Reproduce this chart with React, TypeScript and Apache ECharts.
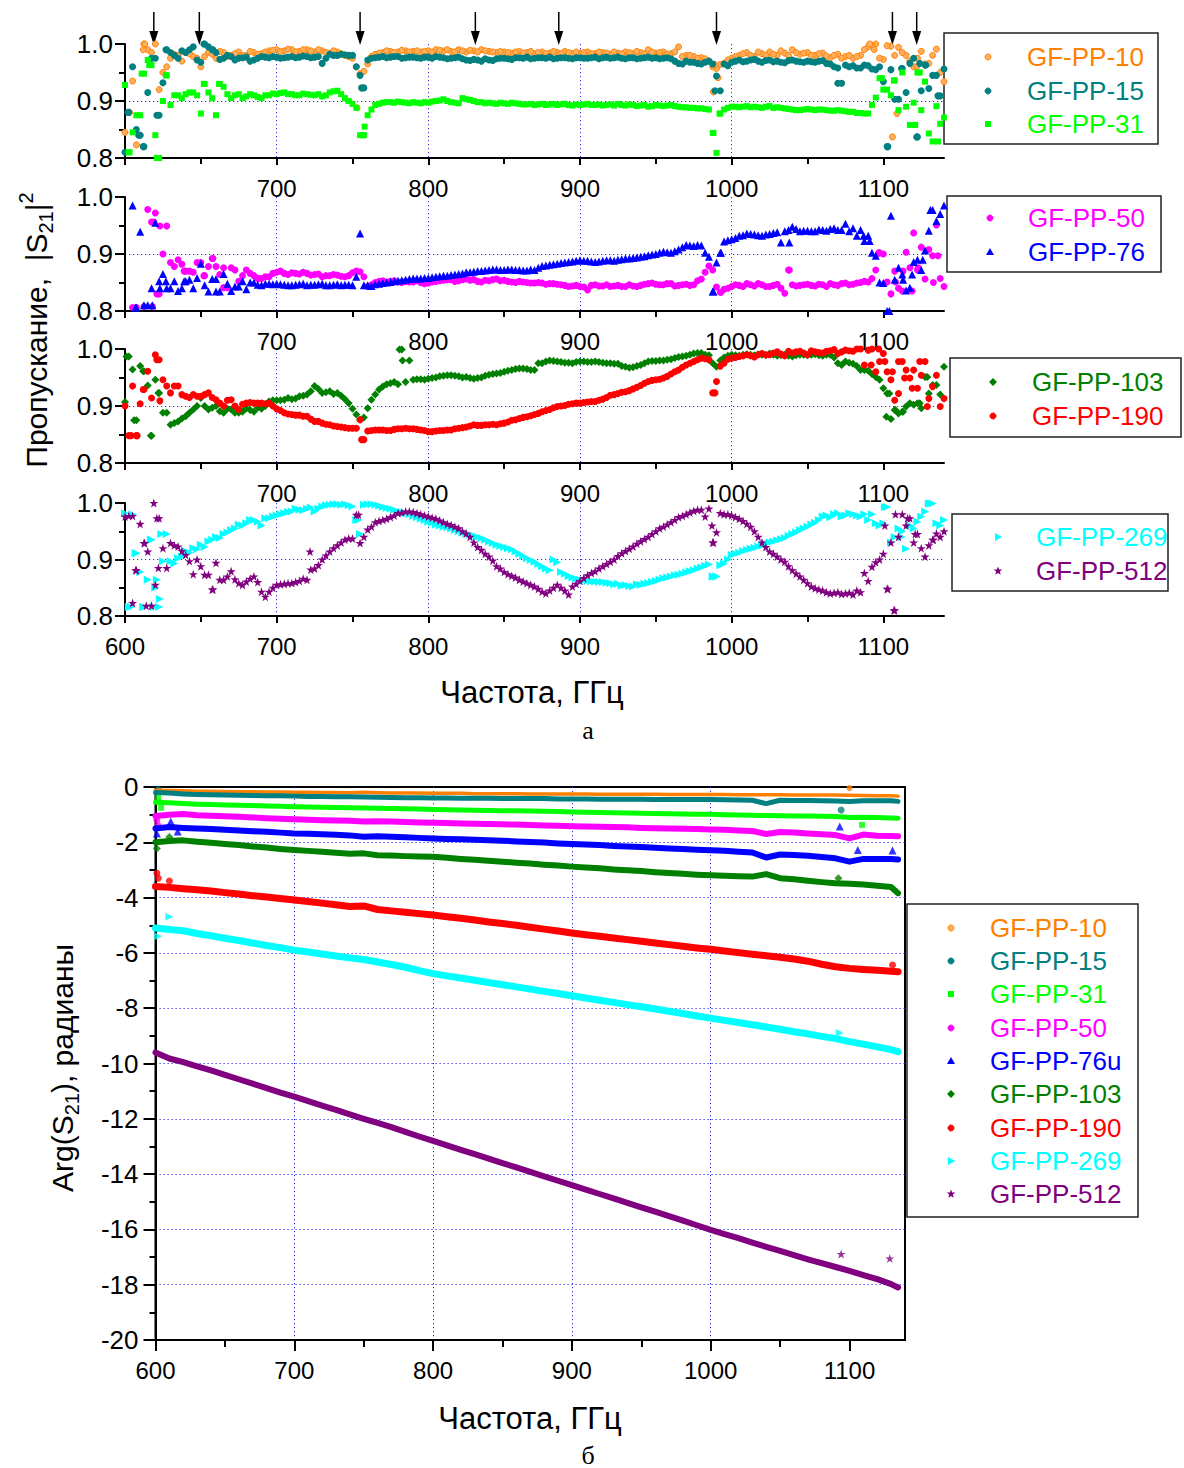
import React, { useEffect, useRef } from 'react';
import * as echarts from 'echarts';

const FONT = '"Liberation Sans", Arial, Helvetica, sans-serif';
const SERIF = '"Liberation Serif", "Times New Roman", serif';

// ---------- panel (a): transmission |S21|^2 ----------
const freqA = [
  600, 605, 610, 615, 620, 625, 630, 635, 640, 645,
  650, 655, 660, 665, 670, 675, 680, 685, 690, 695,
  700, 705, 710, 715, 720, 725, 730, 735, 740, 745,
  750, 755, 760, 765, 770, 775, 780, 785, 790, 795,
  800, 805, 810, 815, 820, 825, 830, 835, 840, 845,
  850, 855, 860, 865, 870, 875, 880, 885, 890, 895,
  900, 905, 910, 915, 920, 925, 930, 935, 940, 945,
  950, 955, 960, 965, 970, 975, 980, 985, 990, 995,
  1000, 1005, 1010, 1015, 1020, 1025, 1030, 1035, 1040, 1045,
  1050, 1055, 1060, 1065, 1070, 1075, 1080, 1085, 1090, 1095,
  1100, 1105, 1110, 1115, 1120, 1125, 1130, 1135, 1140,
];
const freqA2 = [
  602.5, 607.5, 612.5, 617.5, 622.5, 627.5, 632.5, 637.5, 642.5, 647.5,
  652.5, 657.5, 662.5, 667.5, 672.5, 677.5, 682.5, 687.5, 692.5, 697.5,
  702.5, 707.5, 712.5, 717.5, 722.5, 727.5, 732.5, 737.5, 742.5, 747.5,
  752.5, 757.5, 762.5, 767.5, 772.5, 777.5, 782.5, 787.5, 792.5, 797.5,
  802.5, 807.5, 812.5, 817.5, 822.5, 827.5, 832.5, 837.5, 842.5, 847.5,
  852.5, 857.5, 862.5, 867.5, 872.5, 877.5, 882.5, 887.5, 892.5, 897.5,
  902.5, 907.5, 912.5, 917.5, 922.5, 927.5, 932.5, 937.5, 942.5, 947.5,
  952.5, 957.5, 962.5, 967.5, 972.5, 977.5, 982.5, 987.5, 992.5, 997.5,
  1002.5, 1007.5, 1012.5, 1017.5, 1022.5, 1027.5, 1032.5, 1037.5, 1042.5, 1047.5,
  1052.5, 1057.5, 1062.5, 1067.5, 1072.5, 1077.5, 1082.5, 1087.5, 1092.5, 1097.5,
  1102.5, 1107.5, 1112.5, 1117.5, 1122.5, 1127.5, 1132.5, 1137.5,
];

const pp10A = [
  0.845, 0.935, 0.84, 0.99, 1.0, 0.95, 0.975, 0.98, 0.985, 0.978,
  0.96, 0.985, 0.975, 0.985, 0.98, 0.986, 0.98, 0.985, 0.983, 0.988,
  0.99, 0.988, 0.99, 0.987, 0.99, 0.986, 0.988, 0.984, 0.986, 0.98,
  0.975, 0.948, 0.965, 0.982, 0.985, 0.987, 0.986, 0.988, 0.987, 0.986,
  0.988, 0.99, 0.988, 0.987, 0.99, 0.986, 0.988, 0.99, 0.987, 0.985,
  0.986, 0.984, 0.987, 0.985, 0.983, 0.986, 0.984, 0.985, 0.987, 0.983,
  0.984, 0.986, 0.983, 0.985, 0.982, 0.984, 0.986, 0.983, 0.985, 0.99,
  0.984, 0.986, 0.983, 0.995, 0.98, 0.978, 0.976, 0.97, 0.957, 0.966,
  0.975, 0.98, 0.985, 0.978, 0.983, 0.986, 0.98, 0.984, 0.99, 0.982,
  0.985, 0.98, 0.984, 0.976, 0.982, 0.978, 0.975, 0.98, 0.995, 1.0,
  0.973, 0.996, 0.994, 0.98, 0.96, 0.987, 0.966, 0.991, 0.934,
];
const pp10A2 = [
  0.88, 0.823, 1.0, 0.985, 0.92, 0.96, 0.982, 0.97, 0.983, 0.975,
  0.978, 0.982, 0.987, 0.978, 0.983, 0.98, 0.987, 0.982, 0.986, 0.989,
  0.987, 0.991, 0.986, 0.99, 0.988, 0.99, 0.985, 0.988, 0.983, 0.978,
  0.96, 0.952, 0.978, 0.984, 0.988, 0.985, 0.989, 0.986, 0.988, 0.987,
  0.986, 0.989, 0.99, 0.986, 0.988, 0.989, 0.986, 0.988, 0.986, 0.987,
  0.985, 0.986, 0.984, 0.987, 0.985, 0.983, 0.987, 0.983, 0.985, 0.986,
  0.985, 0.983, 0.986, 0.984, 0.986, 0.983, 0.985, 0.987, 0.983, 0.986,
  0.985, 0.982, 0.986, 0.978, 0.98, 0.975, 0.974, 0.96, 0.964, 0.972,
  0.978, 0.983, 0.98, 0.986, 0.98, 0.982, 0.988, 0.98, 0.985, 0.984,
  0.98, 0.983, 0.979, 0.98, 0.975, 0.98, 0.978, 0.99, 0.998, 0.975,
  0.997, 0.98, 0.985, 0.97, 0.975, 0.965, 0.98, 0.95,
];
const pp15A = [
  0.81, 0.96, 0.84, 0.915, 0.975, 0.932, 0.985, 0.975, 0.985, 0.995,
  0.968, 0.995, 0.985, 0.975, 0.978, 0.975, 0.977, 0.972, 0.978, 0.976,
  0.977, 0.976, 0.978, 0.977, 0.978, 0.977, 0.966, 0.982, 0.98, 0.981,
  0.98, 0.945, 0.972, 0.976, 0.978, 0.977, 0.978, 0.976, 0.977, 0.975,
  0.977, 0.978, 0.976, 0.975, 0.977, 0.972, 0.973, 0.97, 0.972, 0.974,
  0.975, 0.973, 0.976, 0.977, 0.975, 0.976, 0.977, 0.975, 0.976, 0.974,
  0.976, 0.975, 0.977, 0.976, 0.975, 0.977, 0.974, 0.976, 0.975, 0.977,
  0.976, 0.975, 0.974, 0.966, 0.97, 0.968, 0.965, 0.97, 0.944, 0.965,
  0.968, 0.972, 0.97, 0.973, 0.968, 0.972, 0.97, 0.967, 0.972, 0.969,
  0.97, 0.968, 0.971, 0.965, 0.958, 0.963, 0.962, 0.958, 0.962, 0.955,
  0.934, 0.955, 0.903, 0.915, 0.975, 0.918, 0.922, 0.945, 0.956,
];
const pp15A2 = [
  0.88, 0.85, 0.82, 0.975, 0.875, 0.99, 0.98, 0.988, 0.99, 0.972,
  1.0, 0.99, 0.973, 0.98, 0.972, 0.976, 0.97, 0.975, 0.977, 0.978,
  0.975, 0.977, 0.976, 0.979, 0.976, 0.978, 0.975, 0.98, 0.982, 0.98,
  0.96, 0.923, 0.975, 0.977, 0.976, 0.978, 0.975, 0.977, 0.976, 0.977,
  0.975, 0.977, 0.974, 0.976, 0.974, 0.971, 0.972, 0.974, 0.971, 0.975,
  0.974, 0.976, 0.975, 0.974, 0.976, 0.975, 0.974, 0.976, 0.975, 0.976,
  0.975, 0.976, 0.974, 0.977, 0.976, 0.975, 0.976, 0.974, 0.976, 0.975,
  0.974, 0.976, 0.97, 0.965, 0.968, 0.966, 0.968, 0.965, 0.918, 0.962,
  0.97, 0.969, 0.972, 0.97, 0.971, 0.969, 0.968, 0.971, 0.97, 0.968,
  0.969, 0.97, 0.966, 0.96, 0.931, 0.96, 0.958, 0.963, 0.956, 0.96,
  0.82, 0.903, 0.957, 0.966, 0.837, 0.963, 0.945, 0.909,
];
const pp31A = [
  0.928, 0.845, 0.875, 0.972, 0.84, 0.9, 0.893, 0.91, 0.912, 0.915,
  0.878, 0.915, 0.875, 0.925, 0.905, 0.912, 0.908, 0.91, 0.905, 0.91,
  0.912, 0.915, 0.912, 0.91, 0.912, 0.91, 0.908, 0.915, 0.918, 0.905,
  0.895, 0.84, 0.875, 0.893, 0.897, 0.898, 0.899, 0.897, 0.898, 0.896,
  0.897, 0.9, 0.903, 0.898, 0.896, 0.903, 0.9, 0.898, 0.897, 0.895,
  0.896, 0.897, 0.895, 0.894, 0.893, 0.895, 0.894, 0.893, 0.895, 0.892,
  0.893, 0.895, 0.893, 0.892, 0.894, 0.895, 0.892, 0.893, 0.892, 0.89,
  0.893, 0.891, 0.893, 0.89, 0.889, 0.888, 0.887, 0.885, 0.809, 0.885,
  0.89, 0.889, 0.891, 0.89, 0.888, 0.891, 0.889, 0.887, 0.885, 0.884,
  0.886, 0.884, 0.885, 0.883, 0.884, 0.882, 0.881, 0.879, 0.878, 0.906,
  0.92, 0.91, 0.884, 0.89, 0.897, 0.884, 0.843, 0.891, 0.871,
];
const pp31A2 = [
  0.81, 0.875, 0.948, 0.963, 0.8, 0.945, 0.91, 0.905, 0.915, 0.91,
  0.93, 0.905, 0.93, 0.912, 0.91, 0.905, 0.912, 0.907, 0.91, 0.913,
  0.914, 0.912, 0.91, 0.913, 0.911, 0.912, 0.91, 0.917, 0.912, 0.9,
  0.888, 0.84, 0.885, 0.895, 0.898, 0.897, 0.898, 0.896, 0.897, 0.898,
  0.899, 0.901, 0.9, 0.897, 0.905, 0.902, 0.898, 0.896, 0.896, 0.897,
  0.895, 0.896, 0.894, 0.895, 0.894, 0.893, 0.895, 0.894, 0.893, 0.894,
  0.894, 0.893, 0.894, 0.893, 0.892, 0.893, 0.894, 0.891, 0.893, 0.891,
  0.892, 0.892, 0.891, 0.889, 0.888, 0.887, 0.886, 0.844, 0.878, 0.888,
  0.89, 0.89, 0.889, 0.889, 0.89, 0.888, 0.888, 0.886, 0.884, 0.885,
  0.885, 0.885, 0.884, 0.883, 0.883, 0.881, 0.879, 0.878, 0.893, 0.94,
  0.92, 0.936, 0.95, 0.858, 0.95, 0.934, 0.829, 0.86,
];
const pp50A = [
  null, 0.806, null, 0.978, 0.972, 0.9, 0.885, 0.89, 0.87, 0.868,
  0.885, 0.878, 0.878, 0.876, 0.876, 0.852, 0.872, 0.862, 0.857, 0.86,
  0.868, 0.866, 0.867, 0.865, 0.866, 0.864, 0.86, 0.862, 0.863, 0.86,
  0.867, 0.869, 0.843, 0.85, 0.853, 0.852, 0.851, 0.852, 0.851, 0.85,
  0.849, 0.852, 0.854, 0.855, 0.853, 0.856, 0.855, 0.851, 0.853, 0.856,
  0.854, 0.851, 0.852, 0.85, 0.849, 0.849, 0.848, 0.847, 0.845, 0.844,
  0.843, 0.837, 0.846, 0.844, 0.843, 0.845, 0.843, 0.844, 0.845, 0.848,
  0.847, 0.846, 0.848, 0.845, 0.847, 0.846, 0.856, 0.879, 0.842, 0.838,
  0.843, 0.845, 0.848, 0.844, 0.846, 0.843, 0.847, 0.831, 0.846, 0.845,
  0.847, 0.844, 0.846, 0.848, 0.845, 0.849, 0.847, 0.85, 0.851, 0.872,
  0.9, 0.83, 0.84, 0.903, 0.937, 0.912, 0.908, 0.951, 0.843,
];
const pp50A2 = [
  null, 0.806, 0.808, 0.956, 0.83, 0.949, 0.878, 0.882, 0.87, 0.885,
  0.862, 0.892, 0.864, 0.841, 0.872, 0.862, 0.866, 0.857, 0.86, 0.866,
  0.87, 0.864, 0.866, 0.868, 0.863, 0.865, 0.862, 0.864, 0.861, 0.862,
  0.87, 0.86, 0.846, 0.852, 0.851, 0.853, 0.85, 0.851, 0.853, 0.848,
  0.851, 0.853, 0.855, 0.852, 0.855, 0.854, 0.852, 0.854, 0.855, 0.853,
  0.852, 0.85, 0.851, 0.849, 0.85, 0.847, 0.848, 0.846, 0.843, 0.845,
  0.842, 0.845, 0.844, 0.846, 0.844, 0.843, 0.846, 0.843, 0.847, 0.849,
  0.846, 0.848, 0.844, 0.846, 0.845, 0.853, 0.868, 0.872, 0.833, 0.84,
  0.846, 0.843, 0.846, 0.848, 0.843, 0.845, 0.84, 0.872, 0.844, 0.846,
  0.845, 0.847, 0.843, 0.846, 0.848, 0.846, 0.849, 0.852, 0.857, 0.902,
  0.851, 0.87, 0.835, 0.876, 0.872, 0.856, 0.897, 0.857,
];
const pp76A = [
  null, 0.985, 0.939, 0.81, 0.955, 0.865, 0.84, 0.835, 0.852, 0.84,
  0.883, 0.834, 0.856, 0.865, 0.835, 0.843, 0.838, 0.85, 0.845, 0.848,
  0.848, 0.846, 0.845, 0.847, 0.845, 0.846, 0.848, 0.845, 0.847, 0.846,
  0.845, 0.936, 0.845, 0.847, 0.849, 0.851, 0.853, 0.855, 0.857, 0.857,
  0.858, 0.86, 0.862, 0.863, 0.865, 0.868, 0.869, 0.87, 0.872, 0.873,
  0.872, 0.873, 0.872, 0.871, 0.872, 0.879, 0.881, 0.883, 0.885, 0.887,
  0.889, 0.888, 0.886, 0.888, 0.889, 0.89, 0.892, 0.893, 0.895, 0.898,
  0.9, 0.904, 0.902, 0.908, 0.916, 0.914, 0.915, 0.895, 0.885, 0.922,
  0.926, 0.932, 0.936, 0.934, 0.932, 0.935, 0.938, 0.94, 0.948, 0.94,
  0.941, 0.94, 0.942, 0.944, 0.942, 0.953, 0.945, 0.942, 0.932, 0.897,
  0.849, 0.967, 0.876, 0.836, 0.886, 0.872, 0.941, 0.958, 0.985,
];
const pp76A2 = [
  null, 0.806, 0.81, 0.84, 0.852, 0.84, 0.852, 0.84, 0.855, 0.858,
  0.845, 0.856, 0.834, 0.848, 0.843, 0.852, 0.85, 0.846, 0.848, 0.847,
  0.847, 0.845, 0.846, 0.848, 0.846, 0.847, 0.845, 0.846, 0.845, 0.846,
  0.86, 0.845, 0.844, 0.848, 0.85, 0.852, 0.854, 0.856, 0.857, 0.858,
  0.859, 0.861, 0.862, 0.864, 0.866, 0.868, 0.87, 0.871, 0.873, 0.872,
  0.873, 0.872, 0.871, 0.873, 0.876, 0.88, 0.882, 0.884, 0.886, 0.888,
  0.888, 0.887, 0.887, 0.889, 0.888, 0.891, 0.892, 0.894, 0.896, 0.899,
  0.902, 0.903, 0.905, 0.912, 0.915, 0.916, 0.902, 0.834, 0.902, 0.924,
  0.928, 0.933, 0.935, 0.933, 0.934, 0.937, 0.92, 0.942, 0.944, 0.941,
  0.94, 0.943, 0.941, 0.945, 0.942, 0.94, 0.932, 0.923, 0.902, 0.85,
  0.8, 0.855, 0.864, 0.841, 0.89, 0.906, 0.977, 0.97,
];
const pp103A = [
  0.907, 0.964, 0.97, 0.936, 0.946, 0.888, 0.867, 0.873, 0.882, 0.894,
  0.914, 0.894, 0.9, 0.888, 0.894, 0.888, 0.896, 0.89, 0.895, 0.908,
  0.91, 0.911, 0.912, 0.917, 0.92, 0.935, 0.923, 0.926, 0.923, 0.912,
  0.895, 0.876, 0.896, 0.92, 0.934, 0.94, 0.938, 0.942, 0.946, 0.947,
  0.948, 0.95, 0.953, 0.954, 0.952, 0.951, 0.948, 0.95, 0.955, 0.957,
  0.96, 0.963, 0.966, 0.965, 0.963, 0.975, 0.98, 0.978, 0.976, 0.975,
  0.978, 0.977, 0.978, 0.976, 0.975, 0.974, 0.969, 0.968, 0.972, 0.978,
  0.979, 0.98, 0.982, 0.986, 0.988, 0.992, 0.993, 0.989, 0.969, 0.985,
  0.99, 0.988, 0.991, 0.989, 0.99, 0.992, 0.988, 0.99, 0.987, 0.99,
  0.989, 0.991, 0.988, 0.99, 0.975, 0.978, 0.974, 0.963, 0.962, 0.951,
  0.931, 0.877, 0.887, 0.899, 0.902, 0.896, 0.922, 0.937, 0.969,
];
const pp103A2 = [
  0.987, 0.875, 0.961, 0.848, 0.923, 0.888, 0.87, 0.878, 0.888, 0.9,
  0.9, 0.897, 0.891, 0.895, 0.888, 0.89, 0.893, 0.897, 0.9, 0.91,
  0.91, 0.914, 0.913, 0.918, 0.926, 0.93, 0.924, 0.921, 0.918, 0.905,
  0.885, 0.88, 0.911, 0.929, 0.938, 0.942, 0.999, 0.98, 0.947, 0.946,
  0.949, 0.952, 0.954, 0.953, 0.95, 0.949, 0.949, 0.953, 0.956, 0.958,
  0.962, 0.965, 0.966, 0.963, 0.975, 0.978, 0.979, 0.977, 0.976, 0.977,
  0.978, 0.977, 0.977, 0.975, 0.974, 0.97, 0.967, 0.97, 0.975, 0.979,
  0.98, 0.981, 0.984, 0.987, 0.99, 0.993, 0.99, 0.975, 0.98, 0.988,
  0.989, 0.99, 0.99, 0.991, 0.989, 0.99, 0.989, 0.988, 0.989, 0.99,
  0.99, 0.989, 0.99, 0.985, 0.972, 0.976, 0.97, 0.963, 0.956, 0.946,
  0.922, 0.893, 0.89, 0.905, 0.905, 0.951, 0.937, 0.92,
];
const pp190A = [
  0.9, 0.935, 0.904, 0.961, 0.99, 0.946, 0.923, 0.935, 0.917, 0.92,
  0.917, 0.923, 0.911, 0.9, 0.911, 0.894, 0.905, 0.905, 0.905, 0.905,
  0.895, 0.888, 0.885, 0.884, 0.882, 0.873, 0.87, 0.867, 0.864, 0.862,
  0.861, 0.876, 0.856, 0.858, 0.858, 0.857, 0.86, 0.861, 0.86, 0.858,
  0.855, 0.856, 0.857, 0.858, 0.861, 0.863, 0.867, 0.866, 0.867, 0.867,
  0.87, 0.875, 0.878, 0.881, 0.885, 0.89, 0.894, 0.899, 0.901, 0.904,
  0.905, 0.907, 0.908, 0.912, 0.919, 0.922, 0.925, 0.93, 0.936, 0.943,
  0.946, 0.949, 0.956, 0.963, 0.972, 0.978, 0.984, 0.981, 0.943, 0.975,
  0.984, 0.987, 0.99, 0.986, 0.992, 0.99, 0.995, 0.988, 0.993, 0.996,
  0.99, 0.995, 0.993, 0.997, 0.992, 0.998, 0.996, 1.0, 0.998, 0.96,
  0.992, 0.946, 0.922, 0.963, 0.963, 0.954, 0.913, 0.954, 0.913,
];
const pp190A2 = [
  0.848, 0.848, 0.929, 0.914, 0.981, 0.935, 0.935, 0.92, 0.915, 0.917,
  0.92, 0.915, 0.905, 0.91, 0.9, 0.903, 0.906, 0.905, 0.904, 0.9,
  0.892, 0.886, 0.884, 0.882, 0.877, 0.873, 0.868, 0.865, 0.863, 0.861,
  0.861, 0.841, 0.857, 0.858, 0.857, 0.859, 0.86, 0.86, 0.859, 0.857,
  0.855, 0.857, 0.858, 0.86, 0.862, 0.865, 0.866, 0.867, 0.868, 0.869,
  0.872, 0.876, 0.88, 0.883, 0.887, 0.892, 0.897, 0.9, 0.903, 0.905,
  0.906, 0.908, 0.91, 0.915, 0.92, 0.924, 0.927, 0.933, 0.94, 0.945,
  0.947, 0.952, 0.96, 0.968, 0.975, 0.981, 0.983, 0.923, 0.97, 0.982,
  0.985, 0.988, 0.988, 0.99, 0.99, 0.993, 0.991, 0.996, 0.995, 0.993,
  0.997, 0.994, 0.996, 0.999, 0.995, 0.997, 1.0, 0.972, 1.0, 0.978,
  0.96, 0.91, 0.978, 0.949, 0.931, 0.978, 0.934, 0.899,
];
const pp269A = [
  0.982, 0.98, 0.878, 0.864, 0.85, 0.897, 0.897, 0.902, 0.915, 0.92,
  0.926, 0.932, 0.94, 0.945, 0.952, 0.962, 0.964, 0.97, 0.96, 0.973,
  0.978, 0.982, 0.985, 0.988, 0.99, 0.985, 0.994, 0.997, 0.998, 0.998,
  0.994, 0.945, 0.998, 0.997, 0.993, 0.99, 0.985, 0.982, 0.977, 0.972,
  0.967, 0.962, 0.958, 0.955, 0.95, 0.946, 0.942, 0.938, 0.932, 0.926,
  0.922, 0.918, 0.91, 0.902, 0.896, 0.888, 0.881, 0.895, 0.875, 0.868,
  0.864, 0.862, 0.861, 0.86, 0.858, 0.857, 0.855, 0.852, 0.855, 0.858,
  0.862, 0.867, 0.87, 0.873, 0.877, 0.881, 0.886, 0.891, 0.87, 0.893,
  0.908, 0.912, 0.917, 0.921, 0.925, 0.93, 0.934, 0.938, 0.945, 0.952,
  0.958, 0.965, 0.976, 0.975, 0.982, 0.978, 0.98, 0.976, 0.97, 0.964,
  0.964, 0.93, 0.955, 0.919, 0.955, 0.976, 0.999, 0.964, 0.97,
];
const pp269A2 = [
  0.816, 0.911, 0.816, 0.935, 0.816, 0.945, 0.893, 0.905, 0.912, 0.918,
  0.922, 0.935, 0.938, 0.948, 0.955, 0.96, 0.97, 0.967, 0.973, 0.976,
  0.98, 0.984, 0.99, 0.987, 0.992, 0.99, 0.996, 0.998, 0.997, 0.996,
  0.97, 0.997, 0.998, 0.995, 0.991, 0.988, 0.984, 0.98, 0.975, 0.97,
  0.965, 0.96, 0.957, 0.952, 0.948, 0.944, 0.94, 0.935, 0.929, 0.924,
  0.92, 0.914, 0.906, 0.899, 0.892, 0.884, 0.9, 0.878, 0.871, 0.866,
  0.863, 0.861, 0.86, 0.859, 0.856, 0.854, 0.853, 0.856, 0.857, 0.86,
  0.864, 0.868, 0.872, 0.875, 0.879, 0.884, 0.889, 0.87, 0.89, 0.9,
  0.91, 0.915, 0.919, 0.923, 0.928, 0.932, 0.936, 0.942, 0.948, 0.955,
  0.962, 0.97, 0.978, 0.98, 0.976, 0.982, 0.978, 0.98, 0.98, 0.96,
  0.993, 0.94, 0.95, 0.96, 0.967, 0.985, 0.999, 0.96,
];
const pp512A = [
  0.976, 0.823, 0.963, 0.914, 0.855, 0.92, 0.929, 0.923, 0.908, 0.874,
  0.888, 0.873, 0.894, 0.864, 0.879, 0.858, 0.861, 0.87, 0.843, 0.843,
  0.855, 0.857, 0.858, 0.862, 0.864, 0.884, 0.9, 0.914, 0.925, 0.935,
  0.937, 0.929, 0.953, 0.966, 0.97, 0.975, 0.982, 0.985, 0.984, 0.98,
  0.976, 0.972, 0.966, 0.961, 0.955, 0.946, 0.93, 0.917, 0.905, 0.888,
  0.878, 0.871, 0.864, 0.858, 0.852, 0.843, 0.845, 0.855, 0.845, 0.852,
  0.862, 0.872, 0.879, 0.888, 0.896, 0.906, 0.915, 0.923, 0.932, 0.94,
  0.95, 0.958, 0.966, 0.975, 0.98, 0.986, 0.988, 0.99, 0.948, 0.98,
  0.978, 0.972, 0.963, 0.95, 0.93, 0.914, 0.905, 0.896, 0.881, 0.87,
  0.858, 0.849, 0.845, 0.84, 0.842, 0.84, 0.838, 0.842, 0.862, 0.895,
  0.91, 0.93, 0.94, 0.96, 0.93, 0.92, 0.925, 0.946, 0.95,
];
const pp512A2 = [
  0.977, 0.881, 0.929, 0.818, 0.973, 0.885, 0.925, 0.915, 0.897, 0.9,
  0.873, 0.847, 0.864, 0.87, 0.865, 0.855, 0.866, 0.86, 0.834, 0.85,
  0.856, 0.858, 0.86, 0.866, 0.882, 0.89, 0.907, 0.92, 0.93, 0.937,
  0.979, 0.94, 0.958, 0.968, 0.972, 0.978, 0.983, 0.985, 0.982, 0.978,
  0.974, 0.969, 0.963, 0.958, 0.95, 0.94, 0.922, 0.91, 0.898, 0.884,
  0.874, 0.868, 0.861, 0.855, 0.848, 0.84, 0.85, 0.85, 0.838, 0.857,
  0.867, 0.876, 0.884, 0.892, 0.9, 0.911, 0.919, 0.928, 0.936, 0.945,
  0.955, 0.962, 0.97, 0.977, 0.983, 0.988, 0.976, 0.93, 0.982, 0.98,
  0.975, 0.968, 0.958, 0.94, 0.922, 0.91, 0.9, 0.888, 0.875, 0.864,
  0.852, 0.847, 0.842, 0.841, 0.839, 0.841, 0.845, 0.876, 0.887, 0.9,
  0.848, 0.81, 0.98, 0.973, 0.945, 0.905, 0.935, 0.94,
];

const extra10A = [[603, 0.88], [613, 1.0], [612, 0.99], [753, 0.888], [988, 0.916], [991, 0.941], [989, 0.964], [1106, 0.837], [1109, 0.878], [1091, 1.0], [1122, 0.96], [1094, 0.99]];
const extra15A = [[602, 0.88], [609, 0.84], [612, 0.82], [621, 0.875], [627, 0.99], [652, 1.0], [658, 0.99], [756, 0.923], [989, 0.918], [1070, 0.931], [1103, 0.82], [1112, 0.957], [1122, 0.837], [1124, 0.966], [1128, 0.963], [1136, 0.909]];
const extra31A = [[603, 0.81], [611, 0.948], [616, 0.963], [621, 0.8], [627, 0.945], [652, 0.93], [662, 0.93], [757, 0.84], [758, 0.855], [988, 0.844], [992, 0.878], [1099, 0.94], [1107, 0.936], [1121, 0.858], [1124, 0.95], [1136, 0.829]];
const extra50A = [[618, 0.808], [621, 0.83], [619, 0.956], [623, 0.949], [639, 0.87], [652, 0.862], [658, 0.892], [665, 0.841], [688, 0.857], [993, 0.833], [1038, 0.872], [1097, 0.902], [1108, 0.851], [1113, 0.87], [1119, 0.835], [1123, 0.876], [1133, 0.85], [1136, 0.897]];
const extra76A = [[607, 0.806], [618, 0.81], [623, 0.84], [627, 0.852], [639, 0.852], [660, 0.834], [988, 0.834], [993, 0.902], [1038, 0.92], [1087, 0.932], [1091, 0.923], [1104, 0.8], [1113, 0.855], [1119, 0.864], [1126, 0.89], [1131, 0.977]];
const extra103A = [[601, 0.987], [606, 0.875], [612, 0.961], [617, 0.848], [622, 0.923], [781, 0.999], [783, 0.98], [1102, 0.881], [1104, 0.922], [1108, 0.893], [1113, 0.89], [1124, 0.905], [1129, 0.951]];
const extra190A = [[604, 0.848], [608, 0.848], [612, 0.929], [621, 0.981], [623, 0.909], [756, 0.841], [989, 0.923], [1092, 0.972], [1097, 1.0], [1101, 0.978], [1106, 0.96], [1110, 0.978], [1114, 0.949], [1119, 0.931], [1124, 0.978], [1129, 0.899]];
const extra269A = [[604, 0.816], [612, 0.816], [617, 0.935], [619, 0.816], [621, 0.864], [623, 0.83], [624, 0.945], [607, 0.911], [754, 0.97], [988, 0.87], [990, 0.87], [1101, 0.993], [1112, 0.94], [1131, 0.999]];
const extra512A = [[605, 0.977], [607, 0.881], [613, 0.929], [614, 0.818], [619, 1.0], [621, 0.973], [622, 0.885], [658, 0.847], [722, 0.914], [754, 0.979], [987, 0.96], [988, 0.93], [1101, 0.96], [1103, 0.848], [1107, 0.81], [1108, 0.98], [1116, 0.973], [1121, 0.945], [1133, 0.935]];

// arrows above the first panel (frequencies, GHz)
const arrowFreqs = [619, 649, 755, 831, 886, 990, 1106, 1122];

// ---------- panel (б): phase Arg(S21) ----------
const freqB = [
  600, 610, 620, 630, 640, 650, 660, 670, 680, 690,
  700, 710, 720, 730, 740, 750, 760, 770, 780, 790,
  800, 810, 820, 830, 840, 850, 860, 870, 880, 890,
  900, 910, 920, 930, 940, 950, 960, 970, 980, 990,
  1000, 1010, 1020, 1030, 1040, 1050, 1060, 1070, 1080, 1090,
  1100, 1110, 1120, 1130, 1135,
];
const pp10B = [
  -0.12, -0.13, -0.14, -0.15, -0.15, -0.16, -0.17, -0.17, -0.18, -0.18,
  -0.19, -0.19, -0.2, -0.2, -0.21, -0.19, -0.21, -0.22, -0.22, -0.22,
  -0.23, -0.23, -0.23, -0.24, -0.24, -0.24, -0.24, -0.25, -0.25, -0.25,
  -0.25, -0.25, -0.26, -0.26, -0.26, -0.26, -0.26, -0.27, -0.27, -0.27,
  -0.27, -0.27, -0.28, -0.28, -0.28, -0.28, -0.29, -0.29, -0.29, -0.29,
  -0.3, -0.31, -0.32, -0.32, -0.33,
];
const pp15B = [
  -0.2, -0.22, -0.25, -0.27, -0.28, -0.29, -0.3, -0.31, -0.32, -0.32,
  -0.33, -0.34, -0.34, -0.35, -0.35, -0.36, -0.37, -0.38, -0.39, -0.39,
  -0.4, -0.4, -0.41, -0.41, -0.41, -0.42, -0.42, -0.42, -0.42, -0.43,
  -0.43, -0.43, -0.44, -0.44, -0.44, -0.44, -0.45, -0.45, -0.45, -0.45,
  -0.45, -0.46, -0.47, -0.48, -0.6, -0.48, -0.49, -0.49, -0.5, -0.51,
  -0.52, -0.5, -0.5, -0.5, -0.52,
];
const pp31B = [
  -0.55, -0.57, -0.6, -0.62, -0.63, -0.65, -0.66, -0.67, -0.69, -0.7,
  -0.71, -0.72, -0.73, -0.74, -0.75, -0.76, -0.77, -0.78, -0.79, -0.8,
  -0.81, -0.82, -0.83, -0.84, -0.85, -0.86, -0.86, -0.87, -0.88, -0.89,
  -0.9, -0.91, -0.92, -0.93, -0.94, -0.95, -0.96, -0.97, -0.98, -0.99,
  -0.99, -1.0, -1.01, -1.02, -1.03, -1.04, -1.05, -1.05, -1.06, -1.07,
  -1.1, -1.09, -1.1, -1.12, -1.13,
];
const pp50B = [
  -1.05, -1.0, -0.98, -1.02, -1.04, -1.06, -1.08, -1.1, -1.13, -1.15,
  -1.17, -1.18, -1.2, -1.21, -1.22, -1.25, -1.24, -1.25, -1.27, -1.28,
  -1.29, -1.3, -1.32, -1.33, -1.34, -1.35, -1.36, -1.37, -1.39, -1.4,
  -1.42, -1.43, -1.44, -1.45, -1.46, -1.48, -1.49, -1.5, -1.51, -1.52,
  -1.54, -1.55, -1.57, -1.59, -1.7, -1.63, -1.65, -1.68, -1.71, -1.74,
  -1.86, -1.72, -1.76, -1.77, -1.78,
];
const pp76B = [
  -1.5, -1.45, -1.48, -1.5, -1.52, -1.55, -1.57, -1.6, -1.62, -1.65,
  -1.68, -1.69, -1.71, -1.73, -1.75, -1.8, -1.78, -1.8, -1.82, -1.84,
  -1.86, -1.88, -1.89, -1.91, -1.93, -1.94, -1.97, -1.99, -2.01, -2.04,
  -2.06, -2.08, -2.1, -2.13, -2.15, -2.17, -2.2, -2.22, -2.24, -2.27,
  -2.29, -2.31, -2.34, -2.37, -2.55, -2.44, -2.46, -2.49, -2.53, -2.58,
  -2.7, -2.6, -2.6, -2.6, -2.62,
];
const pp103B = [
  -2.0, -1.95, -1.93, -1.98, -2.02, -2.06, -2.1, -2.15, -2.19, -2.24,
  -2.28, -2.31, -2.34, -2.38, -2.41, -2.4, -2.47, -2.48, -2.5, -2.51,
  -2.52, -2.56, -2.6, -2.63, -2.67, -2.7, -2.74, -2.77, -2.81, -2.84,
  -2.88, -2.91, -2.94, -2.98, -3.01, -3.04, -3.08, -3.11, -3.14, -3.17,
  -3.19, -3.21, -3.23, -3.24, -3.15, -3.3, -3.34, -3.39, -3.44, -3.48,
  -3.5, -3.53, -3.57, -3.62, -3.84,
];
const pp190B = [
  -3.6, -3.63, -3.68, -3.72, -3.76, -3.82, -3.87, -3.93, -3.98, -4.03,
  -4.09, -4.14, -4.2, -4.26, -4.32, -4.3, -4.43, -4.48, -4.53, -4.58,
  -4.63, -4.69, -4.75, -4.81, -4.88, -4.94, -5.0, -5.07, -5.14, -5.21,
  -5.28, -5.34, -5.4, -5.46, -5.52, -5.58, -5.64, -5.7, -5.76, -5.82,
  -5.87, -5.93, -5.99, -6.05, -6.1, -6.16, -6.22, -6.3, -6.41, -6.5,
  -6.56, -6.6, -6.63, -6.66, -6.68,
];
const pp269B = [
  -5.1, -5.15, -5.2, -5.3, -5.38, -5.47, -5.55, -5.64, -5.73, -5.81,
  -5.9, -5.97, -6.04, -6.11, -6.18, -6.24, -6.33, -6.42, -6.52, -6.64,
  -6.75, -6.83, -6.91, -6.99, -7.07, -7.15, -7.23, -7.31, -7.39, -7.47,
  -7.55, -7.63, -7.71, -7.79, -7.87, -7.95, -8.03, -8.11, -8.19, -8.28,
  -8.36, -8.44, -8.52, -8.6, -8.68, -8.76, -8.85, -8.93, -9.02, -9.1,
  -9.21, -9.3, -9.4, -9.5, -9.57,
];
const pp512B = [
  -9.6, -9.82, -9.95, -10.1, -10.25, -10.41, -10.57, -10.73, -10.89, -11.05,
  -11.2, -11.36, -11.52, -11.68, -11.84, -12.0, -12.15, -12.3, -12.47, -12.64,
  -12.8, -12.96, -13.12, -13.28, -13.44, -13.6, -13.76, -13.92, -14.08, -14.24,
  -14.4, -14.56, -14.72, -14.88, -15.04, -15.2, -15.36, -15.52, -15.68, -15.85,
  -16.02, -16.17, -16.32, -16.48, -16.63, -16.78, -16.93, -17.08, -17.22, -17.36,
  -17.5, -17.65, -17.8, -17.98, -18.1,
];
const extra10B = [[1100, -0.04]];
const extra15B = [[1094, -0.83], [602, -0.1]];
const extra31B = [[1109, -1.37], [602, -0.4], [604, -0.75]];
const extra50B = [[602, -1.4], [601, -1.19]];
const extra76B = [[1093, -1.43], [1106, -2.28], [1131, -2.3], [611, -1.25], [616, -1.61], [601, -1.68]];
const extra103B = [[1092, -3.3], [610, -1.81], [601, -2.22]];
const extra190B = [[1131, -6.44], [610, -3.4], [601, -3.12], [602, -3.3]];
const extra269B = [[1093, -8.9], [610, -4.69], [602, -5.4]];
const extra512B = [[1094, -16.89], [1129, -17.05]];

// ---------- names & styles ----------
const STAR = 'path://M50,0 L61.8,35.1 L98.6,35.1 L68.8,56.7 L80.2,91.6 L50,70 L19.8,91.6 L31.2,56.7 L1.4,35.1 L38.2,35.1 Z';
const RTRI = 'path://M0,0 L10,5 L0,10 Z';

const STYLE: Record<string, any> = {
  'GF-PP-10': { color: '#ff8000', fill: '#ffae5c', symbol: 'circle', size: 6, kind: 'circle', lw: 3.5 },
  'GF-PP-15': { color: '#008080', fill: '#008080', symbol: 'circle', size: 7, kind: 'circle', lw: 5 },
  'GF-PP-31': { color: '#00ff00', fill: '#00ff00', symbol: 'rect', size: 6, kind: 'rect', lw: 5 },
  'GF-PP-50': { color: '#ff00ff', fill: '#ff00ff', symbol: 'circle', size: 7, kind: 'circle', lw: 6 },
  'GF-PP-76': { color: '#0000ff', fill: '#0000ff', symbol: 'triangle', size: 8, kind: 'triangle', lw: 6 },
  'GF-PP-103': { color: '#008000', fill: '#008000', symbol: 'diamond', size: 8, kind: 'diamond', lw: 6 },
  'GF-PP-190': { color: '#ff0000', fill: '#ff0000', symbol: 'circle', size: 7, kind: 'circle', lw: 7 },
  'GF-PP-269': { color: '#00ffff', fill: '#00ffff', symbol: RTRI, size: 8, kind: 'rtri', lw: 7 },
  'GF-PP-512': { color: '#800080', fill: '#800080', symbol: STAR, size: 9, kind: 'star', lw: 6 },
};

const panelsA = [
  [['GF-PP-10', pp10A, pp10A2, extra10A], ['GF-PP-15', pp15A, pp15A2, extra15A], ['GF-PP-31', pp31A, pp31A2, extra31A]],
  [['GF-PP-50', pp50A, pp50A2, extra50A], ['GF-PP-76', pp76A, pp76A2, extra76A]],
  [['GF-PP-103', pp103A, pp103A2, extra103A], ['GF-PP-190', pp190A, pp190A2, extra190A]],
  [['GF-PP-269', pp269A, pp269A2, extra269A], ['GF-PP-512', pp512A, pp512A2, extra512A]],
];
const seriesB = [
  ['GF-PP-10', 'GF-PP-10', pp10B, extra10B],
  ['GF-PP-15', 'GF-PP-15', pp15B, extra15B],
  ['GF-PP-31', 'GF-PP-31', pp31B, extra31B],
  ['GF-PP-50', 'GF-PP-50', pp50B, extra50B],
  ['GF-PP-76u', 'GF-PP-76', pp76B, extra76B],
  ['GF-PP-103', 'GF-PP-103', pp103B, extra103B],
  ['GF-PP-190', 'GF-PP-190', pp190B, extra190B],
  ['GF-PP-269', 'GF-PP-269', pp269B, extra269B],
  ['GF-PP-512', 'GF-PP-512', pp512B, extra512B],
];

const majorTicks = [600, 700, 800, 900, 1000, 1100];
const minorTicks = [650, 750, 850, 950, 1050];
const labelsUpper = [700, 800, 900, 1000, 1100];
const labelsLower = [600, 700, 800, 900, 1000, 1100];

// layout of the hand-placed legend boxes
const legendsA = [
  { names: ['GF-PP-10', 'GF-PP-15', 'GF-PP-31'], x: 944, y: 33, w: 214, h: 111, rows: [57, 91, 124], mx: 988, tx: 1027 },
  { names: ['GF-PP-50', 'GF-PP-76'], x: 947, y: 196, w: 214, h: 76, rows: [218, 252], mx: 990, tx: 1028 },
  { names: ['GF-PP-103', 'GF-PP-190'], x: 950, y: 358, w: 231, h: 79, rows: [382, 416], mx: 993, tx: 1032 },
  { names: ['GF-PP-269', 'GF-PP-512'], x: 952, y: 514, w: 216, h: 77, rows: [537, 571], mx: 998, tx: 1036 },
];
const legendB = { x: 907, y: 904, w: 231, h: 313, rows: [928, 961, 994, 1028, 1061, 1094, 1128, 1161, 1194], mx: 951, tx: 990 };

const GRID_COLOR = '#2b2bff';
const AXIS = { color: '#000', width: 2 };

function pairs(xs: number[], ys: (number | null)[]) {
  const out: number[][] = [];
  xs.forEach((x, i) => { if (ys[i] !== null && ys[i] !== undefined) out.push([x, ys[i] as number]); });
  return out;
}

function marker(kind: string, cx: number, cy: number, color: string, fill: string) {
  const st = { fill, stroke: color, lineWidth: kind === 'circle' ? 1 : 0 };
  if (kind === 'circle') return { type: 'circle', shape: { cx, cy, r: 3 }, style: st };
  if (kind === 'rect') return { type: 'rect', shape: { x: cx - 3, y: cy - 3, width: 6, height: 6 }, style: st };
  let pts: number[][] = [];
  if (kind === 'triangle') pts = [[cx, cy - 4], [cx + 4, cy + 3], [cx - 4, cy + 3]];
  else if (kind === 'diamond') pts = [[cx, cy - 4], [cx + 4, cy], [cx, cy + 4], [cx - 4, cy]];
  else if (kind === 'rtri') pts = [[cx - 3, cy - 4], [cx + 4, cy], [cx - 3, cy + 4]];
  else {
    for (let k = 0; k < 10; k++) {
      const a = -Math.PI / 2 + (k * Math.PI) / 5;
      const r = k % 2 === 0 ? 4.5 : 2;
      pts.push([cx + r * Math.cos(a), cy + r * Math.sin(a)]);
    }
  }
  return { type: 'polygon', shape: { points: pts }, style: st };
}

function legendText(text: string, x: number, y: number, color: string) {
  return {
    type: 'text', x, y,
    style: { text, fill: color, fontSize: 26, fontFamily: FONT, align: 'left', verticalAlign: 'middle' },
  };
}

function xMain(gi: number, labels: number[], tickLen: number) {
  return {
    type: 'value', gridIndex: gi, min: 600, max: 1140, interval: 100, position: 'bottom',
    axisLine: { show: true, onZero: false, lineStyle: AXIS },
    axisTick: { show: true, length: tickLen, customValues: majorTicks, lineStyle: AXIS },
    minorTick: { show: false },
    axisLabel: {
      show: true, customValues: labels, fontSize: 24, fontFamily: FONT, color: '#000', margin: 18,
      formatter: (v: number) => (labels.indexOf(v) >= 0 ? String(v) : ''),
    },
    splitLine: { show: true, showMinLine: false, showMaxLine: false, lineStyle: { color: GRID_COLOR, type: [1.2, 2.8], width: 1 } },
  };
}
function xMinor(gi: number, tickLen: number) {
  return {
    type: 'value', gridIndex: gi, min: 600, max: 1140, interval: 100, position: 'bottom',
    axisLine: { show: false, onZero: false },
    axisTick: { show: true, length: tickLen, customValues: minorTicks, lineStyle: AXIS },
    axisLabel: { show: false },
    splitLine: { show: false },
  };
}
function yA(gi: number) {
  return {
    type: 'value', gridIndex: gi, min: 0.8, max: 1.0, interval: 0.1,
    axisLine: { show: true, onZero: false, lineStyle: AXIS },
    axisTick: { show: true, length: 10, lineStyle: AXIS },
    minorTick: { show: true, splitNumber: 2, length: 6, lineStyle: AXIS },
    axisLabel: { fontSize: 26, fontFamily: FONT, color: '#000', margin: 12, formatter: (v: number) => v.toFixed(1) },
    splitLine: { show: true, showMinLine: false, showMaxLine: false, lineStyle: { color: GRID_COLOR, type: [1.2, 2.8], width: 1 } },
  };
}

export default function App() {
  const ref = useRef<HTMLDivElement>(null);
  useEffect(() => {
    if (!ref.current) return;
    const chart = echarts.init(ref.current, null, { renderer: 'svg' });

    const grids = [
      { left: 125, top: 44, width: 819, height: 114 },
      { left: 125, top: 197, width: 819, height: 114 },
      { left: 125, top: 349, width: 819, height: 114 },
      { left: 125, top: 503, width: 819, height: 113 },
      { left: 155.5, top: 787, width: 749.5, height: 553, show: true, borderColor: '#000', borderWidth: 2, backgroundColor: 'transparent' },
    ].map((g) => ({ ...g, containLabel: false, outerBoundsMode: 'none' }));

    const xAxes: any[] = [
      xMain(0, labelsUpper, 7), xMain(1, labelsUpper, 7), xMain(2, labelsUpper, 7), xMain(3, labelsLower, 7), xMain(4, labelsLower, 11),
      xMinor(0, 6), xMinor(1, 6), xMinor(2, 6), xMinor(3, 6), xMinor(4, 7),
    ];
    const yAxes: any[] = [
      yA(0), yA(1), yA(2), yA(3),
      {
        type: 'value', gridIndex: 4, min: -20, max: 0, interval: 2,
        axisLine: { show: true, onZero: false, lineStyle: AXIS },
        axisTick: { show: true, length: 12, lineStyle: AXIS },
        minorTick: { show: true, splitNumber: 2, length: 6, lineStyle: AXIS },
        axisLabel: { fontSize: 26, fontFamily: FONT, color: '#000', margin: 17 },
        splitLine: { show: true, showMinLine: false, showMaxLine: false, lineStyle: { color: GRID_COLOR, type: [1.2, 2.8], width: 1 } },
      },
    ];

    const series: any[] = [];
    panelsA.forEach((panel, gi) => {
      panel.forEach(([name, ys, ys2, extra]: any) => {
        const s = STYLE[name];
        series.push({
          type: 'scatter', name, xAxisIndex: gi, yAxisIndex: gi, silent: true,
          data: pairs(freqA, ys).concat(pairs(freqA2, ys2)).concat(extra),
          symbol: s.symbol, symbolSize: s.size,
          itemStyle: { color: s.fill, borderColor: s.color, borderWidth: name === 'GF-PP-10' ? 1 : 0, opacity: 1 },
        });
      });
    });
    seriesB.forEach(([label, key, ys, extra]: any) => {
      const s = STYLE[key];
      series.push({
        type: 'line', name: label, xAxisIndex: 4, yAxisIndex: 4, silent: true,
        data: pairs(freqB, ys), showSymbol: false, symbol: 'none',
        lineStyle: { color: s.color, width: s.lw, cap: 'round', join: 'round' },
        itemStyle: { color: s.color },
      });
      series.push({
        type: 'scatter', name: label + ' ', xAxisIndex: 4, yAxisIndex: 4, silent: true,
        data: extra, symbol: s.symbol, symbolSize: s.size,
        itemStyle: { color: s.color },
      });
    });

    chart.setOption({
      animation: false,
      backgroundColor: '#ffffff',
      grid: grids,
      xAxis: xAxes,
      yAxis: yAxes,
      series,
    });

    const graphic: any[] = [];
    // arrows
    arrowFreqs.forEach((f) => {
      const x = chart.convertToPixel({ xAxisIndex: 0 } as any, f) as unknown as number;
      graphic.push({ type: 'line', shape: { x1: x, y1: 12, x2: x, y2: 36 }, style: { stroke: '#000', lineWidth: 1.5 } });
      graphic.push({ type: 'polygon', shape: { points: [[x - 4.5, 31], [x + 4.5, 31], [x, 45]] }, style: { fill: '#000' } });
    });
    // legends (a)
    legendsA.forEach((L) => {
      graphic.push({ type: 'rect', shape: { x: L.x, y: L.y, width: L.w, height: L.h }, style: { fill: '#fff', stroke: '#222', lineWidth: 1.5 } });
      L.names.forEach((n, i) => {
        const s = STYLE[n];
        graphic.push(marker(s.kind, L.mx, L.rows[i], s.color, s.fill));
        graphic.push(legendText(n, L.tx, L.rows[i], s.color));
      });
    });
    // legend (б)
    graphic.push({ type: 'rect', shape: { x: legendB.x, y: legendB.y, width: legendB.w, height: legendB.h }, style: { fill: '#fff', stroke: '#222', lineWidth: 1.5 } });
    seriesB.forEach(([label, key]: any, i) => {
      const s = STYLE[key];
      graphic.push(marker(s.kind, legendB.mx, legendB.rows[i], s.color, s.fill));
      graphic.push(legendText(label, legendB.tx, legendB.rows[i], s.color));
    });
    // axis titles
    const richTitle = {
      m: { fontSize: 30, fontFamily: FONT, lineHeight: 40 },
      s: { fontSize: 20, fontFamily: FONT, lineHeight: 40, verticalAlign: 'bottom' },
      p: { fontSize: 20, fontFamily: FONT, lineHeight: 40, verticalAlign: 'top' },
    };
    graphic.push({
      type: 'text', x: 36, y: 330, rotation: Math.PI / 2,
      style: { text: '{m|Пропускание,  |S}{s|21}{m||}{p|2}', rich: richTitle, fill: '#000', align: 'center', verticalAlign: 'middle' },
    });
    graphic.push({
      type: 'text', x: 62, y: 1068, rotation: Math.PI / 2,
      style: { text: '{m|Arg(S}{s|21}{m|), радианы}', rich: richTitle, fill: '#000', align: 'center', verticalAlign: 'middle' },
    });
    graphic.push({
      type: 'text', x: 532, y: 692,
      style: { text: 'Частота, ГГц', fontSize: 31, fontFamily: FONT, fill: '#000', align: 'center', verticalAlign: 'middle' },
    });
    graphic.push({
      type: 'text', x: 530, y: 1418,
      style: { text: 'Частота, ГГц', fontSize: 31, fontFamily: FONT, fill: '#000', align: 'center', verticalAlign: 'middle' },
    });
    graphic.push({
      type: 'text', x: 588, y: 730,
      style: { text: 'а', fontSize: 26, fontFamily: SERIF, fill: '#000', align: 'center', verticalAlign: 'middle' },
    });
    graphic.push({
      type: 'text', x: 588, y: 1455,
      style: { text: 'б', fontSize: 26, fontFamily: SERIF, fill: '#000', align: 'center', verticalAlign: 'middle' },
    });

    chart.setOption({ graphic });

    return () => chart.dispose();
  }, []);

  return (
    <div
      ref={ref}
      style={{ position: 'absolute', left: 0, top: 0, width: 1184, height: 1468, background: '#fff' }}
    />
  );
}
